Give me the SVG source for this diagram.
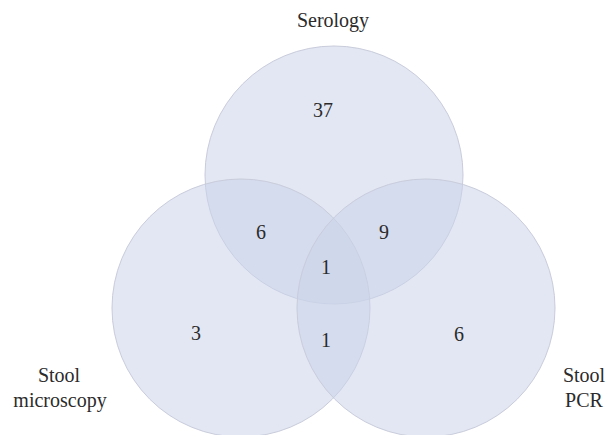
<svg xmlns="http://www.w3.org/2000/svg" width="608" height="435" viewBox="0 0 608 435">
<style>
.c{fill:#cad3e9;fill-opacity:0.55;stroke:#c9ccdb;stroke-width:1}
.t{font-family:'Times New Roman','Liberation Serif','DejaVu Serif',Times,serif;font-size:20px;fill:#2b2b2b;text-anchor:middle}
</style>
<rect width="608" height="435" fill="#ffffff"/>
<g id="serology"><circle class="c" cx="334" cy="175" r="129"/></g>
<g id="stool-microscopy"><circle class="c" cx="241" cy="308" r="129"/></g>
<g id="stool-pcr"><circle class="c" cx="426" cy="308" r="129"/></g>
<g id="connectors"></g>
<g id="labels" class="t">
<text x="333" y="27">Serology</text>
<text x="59" y="382">Stool</text>
<text x="60" y="407">microscopy</text>
<text x="584" y="382">Stool</text>
<text x="584" y="407">PCR</text>
</g>
<g id="counts" class="t">
<text x="323" y="117">37</text>
<text x="261" y="239">6</text>
<text x="384" y="239">9</text>
<text x="326" y="274">1</text>
<text x="196" y="340">3</text>
<text x="326" y="347">1</text>
<text x="459" y="341">6</text>
</g>
</svg>
